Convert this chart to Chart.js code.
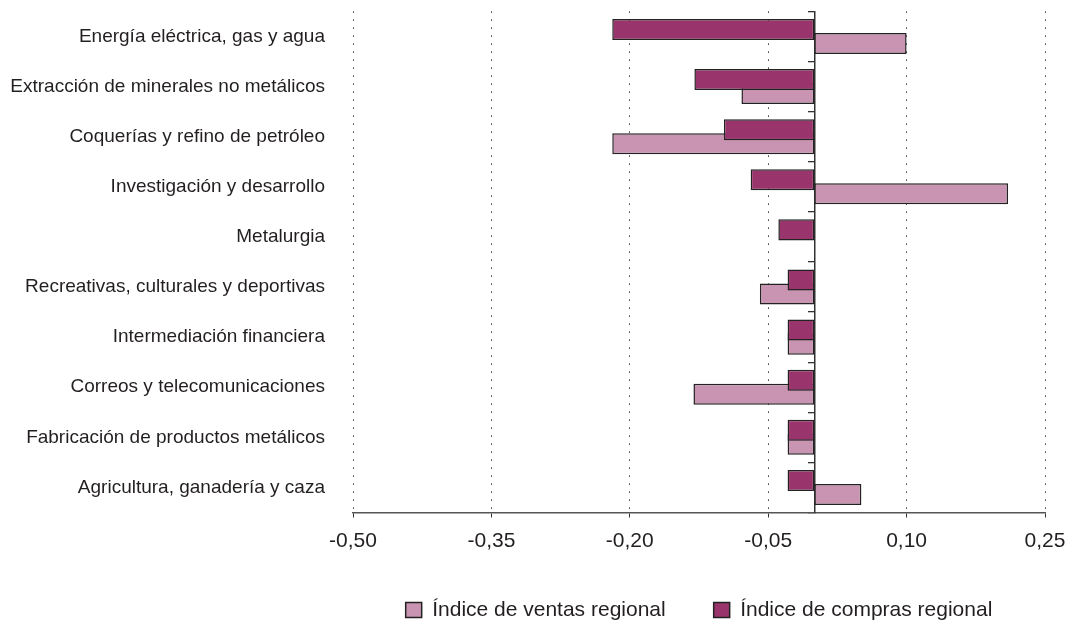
<!DOCTYPE html>
<html lang="es">
<head>
<meta charset="utf-8">
<title>Índices regionales por sector</title>
<script src="https://cdn.jsdelivr.net/npm/chart.js@4/dist/chart.umd.min.js"></script>
<style>
    html, body { margin: 0; padding: 0; background: #fff; }
    #grafico-wrap { width: 1066px; height: 620px; }
</style>
</head>
<body>
<div id="grafico-wrap"><canvas id="grafico"></canvas></div>
<script>
// Datos
const categorias = [
    'Energía eléctrica, gas y agua',
    'Extracción de minerales no metálicos',
    'Coquerías y refino de petróleo',
    'Investigación y desarrollo',
    'Metalurgia',
    'Recreativas, culturales y deportivas',
    'Intermediación financiera',
    'Correos y telecomunicaciones',
    'Fabricación de productos metálicos',
    'Agricultura, ganadería y caza'
];
const ventas = [0.100, -0.079, -0.219, 0.210, 0, -0.059, -0.029, -0.131, -0.029, 0.051];
const compras = [-0.219, -0.130, -0.098, -0.069, -0.039, -0.029, -0.029, -0.029, -0.029, -0.029];
const ticksX = [-0.50, -0.35, -0.20, -0.05, 0.10, 0.25];

const colorTexto = '#231f20';
const colorLinea = '#333';
const fuente = 'Liberation Sans, Arial, sans-serif';

new Chart(document.getElementById('grafico'), {
    type: 'bar',
    data: {
        labels: categorias,
        datasets: [
            {
                label: 'Índice de compras regional',
                data: compras,
                backgroundColor: '#99356c',
                borderColor: '#222',
                borderWidth: 1.5,
                borderSkipped: false
            },
            {
                label: 'Índice de ventas regional',
                data: ventas,
                backgroundColor: '#c994b1',
                borderColor: '#222',
                borderWidth: 1.5,
                borderSkipped: false
            }
        ]
    },
    options: {
        indexAxis: 'y',
        responsive: true,
        maintainAspectRatio: false,
        animation: false,
        datasets: {
            bar: { categoryPercentage: 0.56, barPercentage: 1.5 }
        },
        layout: { padding: { top: 11, right: 21, left: 0, bottom: -10.5 } },
        scales: {
            x: {
                min: ticksX[0],
                max: ticksX[ticksX.length - 1],
                afterBuildTicks: s => { s.ticks = ticksX.map(v => ({ value: v })); },
                // el margen lateral lo fija layout.padding
                afterFit: s => { s.paddingLeft = 0; s.paddingRight = 0; s.height = 39; },
                grid: {
                    color: colorLinea,
                    lineWidth: 1,
                    tickLength: 5,
                    tickBorderDash: []
                },
                border: { display: true, color: '#555', width: 1.5, dash: [1.5, 6.5] },
                ticks: {
                    padding: 13,
                    color: colorTexto,
                    font: { family: fuente, size: 21, lineHeight: 1 },
                    callback: v => Number(v).toFixed(2).replace('.', ',')
                }
            },
            y: {
                position: 'left',
                afterFit: s => { s.width = 353; },
                // marcas invisibles: solo separan las etiquetas del área
                grid: { display: false, drawTicks: true, tickLength: 28 },
                border: { display: false },
                ticks: {
                    padding: 0,
                    color: colorTexto,
                    font: { family: fuente, size: 19 }
                }
            },
            // eje del cero con marcas entre categorías
            y2: {
                type: 'category',
                axis: 'y',
                position: { x: 0 },
                labels: categorias,
                offset: true,
                z: 1,
                grid: {
                    offset: true,
                    drawOnChartArea: false,
                    drawTicks: true,
                    tickLength: 6,
                    color: colorLinea,
                    lineWidth: 1.3
                },
                border: { display: true, color: colorLinea, width: 1.5 },
                ticks: { display: false }
            }
        },
        plugins: {
            legend: {
                position: 'bottom',
                fullSize: false,
                reverse: true,
                labels: {
                    boxWidth: 16,
                    boxHeight: 15,
                    padding: 48,
                    color: colorTexto,
                    font: { family: fuente, size: 21 }
                }
            },
            tooltip: { enabled: false }
        }
    }
});
</script>
</body>
</html>
